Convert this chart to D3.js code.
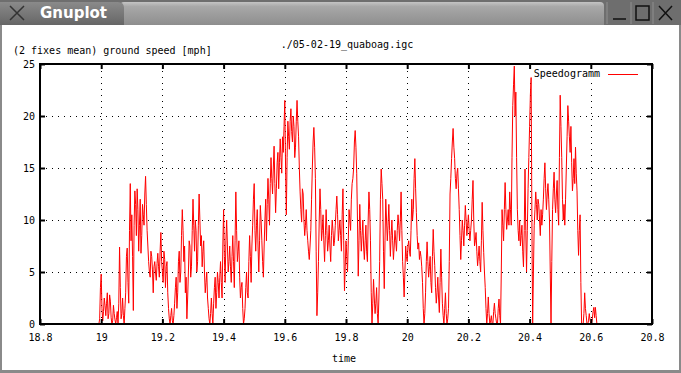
<!DOCTYPE html>
<html>
<head>
<meta charset="utf-8">
<script src="https://d3js.org/d3.v7.min.js"></script>
<style>
  body { margin: 0; background: #fff; }
  svg { display: block; }
  .mono { font-family: "DejaVu Sans Mono", monospace; font-size: 10px; fill: #000; }
</style>
</head>
<body>
<div id="chart"></div>
<script>
// time of each fix (hours)
const time = [
  18.9900, 18.9925, 18.9950, 18.9975, 19.0000, 19.0025, 19.0050, 19.0075, 19.0100, 19.0125, 19.0150, 19.0175, 19.0200, 19.0225, 19.0250, 19.0275, 19.0300, 19.0325, 19.0350, 19.0375,
  19.0400, 19.0425, 19.0450, 19.0475, 19.0500, 19.0525, 19.0550, 19.0575, 19.0600, 19.0625, 19.0650, 19.0675, 19.0700, 19.0725, 19.0750, 19.0775, 19.0800, 19.0825, 19.0850, 19.0875,
  19.0900, 19.0925, 19.0950, 19.0975, 19.1000, 19.1025, 19.1050, 19.1075, 19.1100, 19.1125, 19.1150, 19.1175, 19.1200, 19.1225, 19.1250, 19.1275, 19.1300, 19.1325, 19.1350, 19.1375,
  19.1400, 19.1425, 19.1450, 19.1475, 19.1500, 19.1525, 19.1550, 19.1575, 19.1600, 19.1625, 19.1650, 19.1675, 19.1700, 19.1725, 19.1750, 19.1775, 19.1800, 19.1825, 19.1850, 19.1875,
  19.1900, 19.1925, 19.1950, 19.1975, 19.2000, 19.2025, 19.2050, 19.2075, 19.2100, 19.2125, 19.2150, 19.2175, 19.2200, 19.2225, 19.2250, 19.2275, 19.2300, 19.2325, 19.2350, 19.2375,
  19.2400, 19.2425, 19.2450, 19.2475, 19.2500, 19.2525, 19.2550, 19.2575, 19.2600, 19.2625, 19.2650, 19.2675, 19.2700, 19.2725, 19.2750, 19.2775, 19.2800, 19.2825, 19.2850, 19.2875,
  19.2900, 19.2925, 19.2950, 19.2975, 19.3000, 19.3025, 19.3050, 19.3075, 19.3100, 19.3125, 19.3150, 19.3175, 19.3200, 19.3225, 19.3250, 19.3275, 19.3300, 19.3325, 19.3350, 19.3375,
  19.3400, 19.3425, 19.3450, 19.3475, 19.3500, 19.3525, 19.3550, 19.3575, 19.3600, 19.3625, 19.3650, 19.3675, 19.3700, 19.3725, 19.3750, 19.3775, 19.3800, 19.3825, 19.3850, 19.3875,
  19.3900, 19.3925, 19.3950, 19.3975, 19.4000, 19.4025, 19.4050, 19.4075, 19.4100, 19.4125, 19.4150, 19.4175, 19.4200, 19.4225, 19.4250, 19.4275, 19.4300, 19.4325, 19.4350, 19.4375,
  19.4400, 19.4425, 19.4450, 19.4475, 19.4500, 19.4525, 19.4550, 19.4575, 19.4600, 19.4625, 19.4650, 19.4675, 19.4700, 19.4725, 19.4750, 19.4775, 19.4800, 19.4825, 19.4850, 19.4875,
  19.4900, 19.4925, 19.4950, 19.4975, 19.5000, 19.5025, 19.5050, 19.5075, 19.5100, 19.5125, 19.5150, 19.5175, 19.5200, 19.5225, 19.5250, 19.5275, 19.5300, 19.5325, 19.5350, 19.5375,
  19.5400, 19.5425, 19.5450, 19.5475, 19.5500, 19.5525, 19.5550, 19.5575, 19.5600, 19.5625, 19.5650, 19.5675, 19.5700, 19.5725, 19.5750, 19.5775, 19.5800, 19.5825, 19.5850, 19.5875,
  19.5900, 19.5925, 19.5950, 19.5975, 19.6000, 19.6025, 19.6050, 19.6075, 19.6100, 19.6125, 19.6150, 19.6175, 19.6200, 19.6225, 19.6250, 19.6275, 19.6300, 19.6325, 19.6350, 19.6375,
  19.6400, 19.6425, 19.6450, 19.6475, 19.6500, 19.6525, 19.6550, 19.6575, 19.6600, 19.6625, 19.6650, 19.6675, 19.6700, 19.6725, 19.6750, 19.6775, 19.6800, 19.6825, 19.6850, 19.6875,
  19.6900, 19.6925, 19.6950, 19.6975, 19.7000, 19.7025, 19.7050, 19.7075, 19.7100, 19.7125, 19.7150, 19.7175, 19.7200, 19.7225, 19.7250, 19.7275, 19.7300, 19.7325, 19.7350, 19.7375,
  19.7400, 19.7425, 19.7450, 19.7475, 19.7500, 19.7525, 19.7550, 19.7575, 19.7600, 19.7625, 19.7650, 19.7675, 19.7700, 19.7725, 19.7750, 19.7775, 19.7800, 19.7825, 19.7850, 19.7875,
  19.7900, 19.7925, 19.7950, 19.7975, 19.8000, 19.8025, 19.8050, 19.8075, 19.8100, 19.8125, 19.8150, 19.8175, 19.8200, 19.8225, 19.8250, 19.8275, 19.8300, 19.8325, 19.8350, 19.8375,
  19.8400, 19.8425, 19.8450, 19.8475, 19.8500, 19.8525, 19.8550, 19.8575, 19.8600, 19.8625, 19.8650, 19.8675, 19.8700, 19.8725, 19.8750, 19.8775, 19.8800, 19.8825, 19.8850, 19.8875,
  19.8900, 19.8925, 19.8950, 19.8975, 19.9000, 19.9025, 19.9050, 19.9075, 19.9100, 19.9125, 19.9150, 19.9175, 19.9200, 19.9225, 19.9250, 19.9275, 19.9300, 19.9325, 19.9350, 19.9375,
  19.9400, 19.9425, 19.9450, 19.9475, 19.9500, 19.9525, 19.9550, 19.9575, 19.9600, 19.9625, 19.9650, 19.9675, 19.9700, 19.9725, 19.9750, 19.9775, 19.9800, 19.9825, 19.9850, 19.9875,
  19.9900, 19.9925, 19.9950, 19.9975, 20.0000, 20.0025, 20.0050, 20.0075, 20.0100, 20.0125, 20.0150, 20.0175, 20.0200, 20.0225, 20.0250, 20.0275, 20.0300, 20.0325, 20.0350, 20.0375,
  20.0400, 20.0425, 20.0450, 20.0475, 20.0500, 20.0525, 20.0550, 20.0575, 20.0600, 20.0625, 20.0650, 20.0675, 20.0700, 20.0725, 20.0750, 20.0775, 20.0800, 20.0825, 20.0850, 20.0875,
  20.0900, 20.0925, 20.0950, 20.0975, 20.1000, 20.1025, 20.1050, 20.1075, 20.1100, 20.1125, 20.1150, 20.1175, 20.1200, 20.1225, 20.1250, 20.1275, 20.1300, 20.1325, 20.1350, 20.1375,
  20.1400, 20.1425, 20.1450, 20.1475, 20.1500, 20.1525, 20.1550, 20.1575, 20.1600, 20.1625, 20.1650, 20.1675, 20.1700, 20.1725, 20.1750, 20.1775, 20.1800, 20.1825, 20.1850, 20.1875,
  20.1900, 20.1925, 20.1950, 20.1975, 20.2000, 20.2025, 20.2050, 20.2075, 20.2100, 20.2125, 20.2150, 20.2175, 20.2200, 20.2225, 20.2250, 20.2275, 20.2300, 20.2325, 20.2350, 20.2375,
  20.2400, 20.2425, 20.2450, 20.2475, 20.2500, 20.2525, 20.2550, 20.2575, 20.2600, 20.2625, 20.2650, 20.2675, 20.2700, 20.2725, 20.2750, 20.2775, 20.2800, 20.2825, 20.2850, 20.2875,
  20.2900, 20.2925, 20.2950, 20.2975, 20.3000, 20.3025, 20.3050, 20.3075, 20.3100, 20.3125, 20.3150, 20.3175, 20.3200, 20.3225, 20.3250, 20.3275, 20.3300, 20.3325, 20.3350, 20.3375,
  20.3400, 20.3425, 20.3450, 20.3475, 20.3500, 20.3525, 20.3550, 20.3575, 20.3600, 20.3625, 20.3650, 20.3675, 20.3700, 20.3725, 20.3750, 20.3775, 20.3800, 20.3825, 20.3850, 20.3875,
  20.3900, 20.3925, 20.3950, 20.3975, 20.4000, 20.4025, 20.4050, 20.4075, 20.4100, 20.4125, 20.4150, 20.4175, 20.4200, 20.4225, 20.4250, 20.4275, 20.4300, 20.4325, 20.4350, 20.4375,
  20.4400, 20.4425, 20.4450, 20.4475, 20.4500, 20.4525, 20.4550, 20.4575, 20.4600, 20.4625, 20.4650, 20.4675, 20.4700, 20.4725, 20.4750, 20.4775, 20.4800, 20.4825, 20.4850, 20.4875,
  20.4900, 20.4925, 20.4950, 20.4975, 20.5000, 20.5025, 20.5050, 20.5075, 20.5100, 20.5125, 20.5150, 20.5175, 20.5200, 20.5225, 20.5250, 20.5275, 20.5300, 20.5325, 20.5350, 20.5375,
  20.5400, 20.5425, 20.5450, 20.5475, 20.5500, 20.5525, 20.5550, 20.5575, 20.5600, 20.5625, 20.5650, 20.5675, 20.5700, 20.5725, 20.5750, 20.5775, 20.5800, 20.5825, 20.5850, 20.5875,
  20.5900, 20.5925, 20.5950, 20.5975, 20.6000, 20.6025, 20.6050, 20.6075, 20.6100, 20.6125, 20.6150, 20.6175, 20.6200
];

// ground speed, 2 fixes mean (mph)
const speed = [
  0, 0, 0.5, 3.5, 4.8, 1.5, 0.3, 1.2, 2.5, 1.8, 0.8, 2.0, 3.0, 0.5, 1.0, 2.8, 2.2, 0.6, 0, 0.3,
  1.8, 1.0, 0.4, 0, 0.6, 1.2, 0, 2.0, 7.4, 3.5, 0.5, 1.0, 2.5, 0.8, 0, 1.5, 3.0, 6.5, 7.3, 4.0,
  2.0, 9.0, 13.5, 8.0, 10.5, 6.5, 1.3, 9.5, 12.8, 11.5, 8.5, 13.0, 11.0, 7.0, 9.5, 12.0, 6.8, 8.5, 11.5, 10.5,
  9.5, 12.5, 14.2, 11.5, 9.0, 7.5, 6.0, 5.0, 4.5, 7.0, 6.5, 5.2, 3.0, 5.5, 6.0, 5.0, 4.2, 5.8, 6.8, 5.5,
  4.5, 7.0, 8.8, 6.0, 5.0, 4.0, 7.0, 6.2, 3.5, 5.5, 6.0, 3.0, 1.5, 0.5, 0, 0.8, 1.5, 0.3, 0, 0.8,
  2.0, 3.5, 4.5, 1.5, 3.0, 6.0, 7.0, 4.0, 5.0, 8.5, 11.0, 9.0, 6.0, 7.5, 3.0, 4.5, 0.5, 2.5, 5.0, 8.0,
  7.5, 4.5, 5.5, 9.0, 12.0, 9.5, 7.0, 10.0, 9.0, 5.0, 6.0, 9.5, 12.5, 10.0, 7.5, 8.5, 5.5, 7.0, 8.0, 5.0,
  3.0, 4.0, 5.0, 2.5, 1.5, 0.5, 0, 1.0, 2.5, 1.0, 0, 2.0, 3.5, 4.5, 1.5, 3.0, 5.0, 4.0, 2.5, 4.5,
  6.0, 4.0, 2.5, 7.5, 11.0, 6.5, 4.0, 8.0, 10.0, 7.5, 5.0, 6.0, 7.5, 5.5, 4.0, 6.5, 8.5, 6.0, 3.5, 8.0,
  12.7, 9.0, 6.0, 7.0, 8.0, 4.5, 2.5, 3.5, 4.0, 1.5, 0, 0.5, 1.5, 3.5, 5.0, 3.0, 2.5, 6.0, 8.5, 6.5,
  4.0, 7.5, 9.5, 12.0, 13.5, 9.0, 7.0, 9.5, 11.0, 7.5, 5.0, 8.0, 11.4, 10.0, 8.0, 6.0, 4.5, 7.5, 10.0, 12.0,
  8.0, 11.5, 14.0, 12.0, 9.5, 13.5, 16.0, 14.0, 12.5, 15.0, 17.1, 13.5, 10.7, 13.0, 15.5, 16.5, 13.0, 15.5, 17.8, 16.0,
  14.5, 18.0, 16.5, 19.0, 21.5, 15.0, 10.5, 16.0, 19.5, 18.0, 16.8, 19.5, 20.7, 18.5, 17.5, 20.0, 19.0, 16.0, 17.0, 19.5,
  21.5, 19.5, 18.0, 15.0, 12.7, 11.0, 9.8, 13.0, 12.5, 10.0, 8.5, 9.5, 11.0, 9.0, 8.0, 7.0, 6.2, 7.5, 9.0, 12.0,
  15.0, 17.5, 18.9, 17.0, 14.0, 7.0, 0.8, 3.0, 6.0, 10.0, 13.0, 11.0, 8.0, 9.0, 10.5, 8.0, 6.0, 8.5, 11.0, 9.0,
  7.0, 8.0, 9.5, 7.5, 6.0, 8.5, 10.0, 9.0, 7.5, 8.0, 9.5, 11.0, 12.3, 10.5, 8.0, 9.0, 10.0, 8.5, 7.0, 10.5,
  13.0, 8.0, 3.2, 5.5, 8.0, 6.5, 5.0, 8.0, 11.0, 10.0, 9.0, 12.0, 13.5, 14.0, 15.0, 17.5, 18.6, 17.0, 14.5, 10.0,
  4.6, 8.0, 11.5, 9.0, 7.0, 8.5, 10.0, 7.5, 6.2, 8.0, 9.5, 7.0, 6.0, 10.0, 12.7, 11.0, 8.0, 3.0, 0, 2.0,
  4.3, 2.5, 1.0, 2.0, 3.5, 1.0, 0, 2.5, 6.0, 12.0, 14.9, 13.5, 12.0, 7.0, 3.4, 8.0, 12.0, 10.0, 8.0, 9.5,
  11.5, 9.0, 6.5, 8.5, 10.0, 8.0, 6.2, 7.5, 9.0, 8.0, 7.0, 9.0, 10.5, 9.5, 8.0, 10.0, 12.7, 9.0, 6.0, 4.5,
  2.6, 5.0, 7.5, 6.5, 6.0, 7.5, 8.0, 7.0, 6.5, 9.0, 12.0, 10.0, 11.0, 14.0, 15.9, 13.0, 10.7, 8.5, 7.2, 7.8,
  6.2, 7.0, 6.5, 5.5, 4.0, 1.5, 0, 1.0, 3.0, 6.0, 7.9, 6.0, 4.5, 5.5, 6.5, 4.0, 3.0, 6.5, 9.1, 7.0,
  5.6, 3.5, 2.0, 3.0, 4.5, 2.5, 1.1, 4.0, 7.2, 4.5, 2.0, 0.8, 0, 1.5, 3.0, 1.0, 0, 0.5, 1.5, 6.0,
  12.5, 14.0, 15.9, 17.5, 18.8, 17.0, 15.9, 14.0, 13.0, 14.5, 15.0, 13.0, 11.0, 8.5, 6.2, 8.0, 10.0, 9.0, 7.5, 9.5,
  11.4, 10.0, 8.5, 9.5, 10.5, 9.0, 8.0, 9.0, 10.0, 12.0, 13.8, 10.0, 7.5, 8.0, 8.8, 7.0, 5.6, 6.5, 7.5, 6.0,
  5.0, 8.0, 11.7, 9.0, 6.9, 5.0, 3.5, 1.5, 0, 1.0, 2.6, 1.0, 0, 0.3, 0.8, 0, 0, 1.2, 2.0, 1.0,
  0.5, 0, 0, 1.5, 2.4, 0.8, 0, 5.0, 11.0, 9.5, 8.0, 11.0, 13.6, 11.0, 9.1, 10.0, 11.0, 9.5, 12.7, 11.0,
  9.5, 16.0, 21.0, 23.0, 24.8, 20.0, 22.3, 16.0, 11.0, 9.0, 8.0, 10.0, 7.5, 8.5, 9.5, 7.0, 5.5, 9.0, 14.9, 9.0,
  5.0, 9.0, 13.0, 16.0, 19.0, 22.0, 23.7, 10.0, 0, 5.0, 9.5, 11.0, 12.7, 11.5, 10.0, 12.0, 11.5, 10.0, 8.5, 11.0,
  9.5, 10.5, 12.0, 14.0, 15.5, 13.0, 11.0, 12.5, 13.5, 12.0, 10.0, 5.0, 0, 6.0, 11.0, 13.0, 14.6, 12.0, 10.7, 12.5,
  13.8, 11.0, 9.5, 16.0, 22.0, 19.0, 16.0, 12.0, 10.0, 11.5, 9.5, 12.0, 15.0, 18.0, 21.0, 19.5, 18.0, 16.5, 19.0, 15.5,
  12.8, 14.0, 15.9, 13.5, 17.0, 14.5, 12.8, 9.0, 6.6, 9.0, 10.5, 4.0, 0, 0, 0, 1.0, 3.0, 1.5, 0.8, 0,
  0, 0.3, 1.0, 0.4, 0, 0, 0.5, 1.2, 1.6, 0.6, 1.6, 0.8, 0
];

const xTicks = [18.8, 19, 19.2, 19.4, 19.6, 19.8, 20, 20.2, 20.4, 20.6, 20.8];
const yTicks = [0, 5, 10, 15, 20, 25];

const width = 681, height = 373;
const plotLeft = 40, plotRight = 652, plotTop = 64, plotBottom = 324;

const svg = d3.select("#chart").append("svg")
  .attr("width", width)
  .attr("height", height);

// --- window frame (X11 title bar) ---
const defs = svg.append("defs");
const barGrad = defs.append("linearGradient").attr("id", "bar").attr("x1", 0).attr("y1", 0).attr("x2", 0).attr("y2", 1);
barGrad.append("stop").attr("offset", "0%").attr("stop-color", "#c4c4c4");
barGrad.append("stop").attr("offset", "20%").attr("stop-color", "#a8a8a8");
barGrad.append("stop").attr("offset", "100%").attr("stop-color", "#8e8e8e");
const tabGrad = defs.append("linearGradient").attr("id", "tab").attr("x1", 0).attr("y1", 0).attr("x2", 0).attr("y2", 1);
tabGrad.append("stop").attr("offset", "0%").attr("stop-color", "#8a8a8a");
tabGrad.append("stop").attr("offset", "100%").attr("stop-color", "#666");

svg.append("rect").attr("x", 0).attr("y", 0).attr("width", width).attr("height", height).attr("fill", "#8a8a8a");
svg.append("rect").attr("x", 0).attr("y", 0).attr("width", width).attr("height", 25).attr("fill", "#6e6e6e");
svg.append("path")
  .attr("d", "M120,25 L120,6 Q120,2 124,2 L600,2 Q604,2 604,6 L604,25 Z")
  .attr("fill", "url(#bar)");
svg.append("path")
  .attr("d", "M0,25 L0,2 L118,2 Q124,2 124,8 L124,25 Z")
  .attr("fill", "url(#tab)");
svg.append("text").attr("x", 40).attr("y", 18)
  .attr("font-family", "DejaVu Sans, sans-serif").attr("font-weight", "bold")
  .attr("font-size", 15).attr("fill", "#fff").text("Gnuplot");
// small X icon
svg.append("path").attr("d", "M10,6 L24,20 M24,6 L10,20")
  .attr("stroke", "#333").attr("stroke-width", 1.5);
// buttons
const btn = svg.append("g").attr("stroke", "#111").attr("stroke-width", 1.5).attr("fill", "none");
btn.append("path").attr("d", "M613,19 L626,19");
btn.append("rect").attr("x", 636).attr("y", 6).attr("width", 13).attr("height", 14);
btn.append("path").attr("d", "M659,6 L672,20 M672,6 L659,20");
svg.append("path").attr("d", "M607,2 L607,24 M631,2 L631,24 M653,2 L653,24")
  .attr("stroke", "#8f8f8f").attr("stroke-width", 1);

// window body
svg.append("rect").attr("x", 2).attr("y", 25).attr("width", width - 4).attr("height", height - 28).attr("fill", "#fff");

// --- plot ---
const x = d3.scaleLinear().domain([18.8, 20.8]).range([plotLeft, plotRight]);
const y = d3.scaleLinear().domain([0, 25]).range([plotBottom, plotTop]);

// dotted grid
const grid = svg.append("g").attr("stroke", "#000").attr("stroke-width", 1).attr("stroke-dasharray", "1,5");
grid.selectAll("line.gx")
  .data(xTicks.filter(d => d > 18.8 && d < 20.8))
  .join("line")
  .attr("class", "gx")
  .attr("x1", d => Math.round(x(d)) + 0.5).attr("x2", d => Math.round(x(d)) + 0.5)
  .attr("y1", plotBottom).attr("y2", plotTop);
grid.selectAll("line.gy")
  .data(yTicks.filter(d => d > 0 && d < 25))
  .join("line")
  .attr("class", "gy")
  .attr("y1", d => Math.round(y(d)) + 0.5).attr("y2", d => Math.round(y(d)) + 0.5)
  .attr("x1", plotLeft).attr("x2", plotRight);

// key area is cleared over the grid
svg.append("rect").attr("x", 526).attr("y", plotTop + 1).attr("width", 120).attr("height", 16).attr("fill", "#fff");

// the speed curve
const line = d3.line()
  .x((d, i) => x(time[i]))
  .y(d => y(d));
svg.append("path")
  .datum(speed)
  .attr("d", line)
  .attr("fill", "none")
  .attr("stroke", "#ff0000")
  .attr("stroke-width", 1);

// axes (inward ticks, mirrored on top/right)
const fmt = d => String(d);
const xAx = svg.append("g").attr("transform", `translate(0,${plotBottom})`)
  .call(d3.axisBottom(x).tickValues(xTicks).tickSize(-5).tickPadding(10).tickFormat(fmt));
const xTop = svg.append("g").attr("transform", `translate(0,${plotTop})`)
  .call(d3.axisTop(x).tickValues(xTicks).tickSize(-5).tickFormat(""));
const yAx = svg.append("g").attr("transform", `translate(${plotLeft},0)`)
  .call(d3.axisLeft(y).tickValues(yTicks).tickSize(-5).tickPadding(5).tickFormat(fmt));
const yRight = svg.append("g").attr("transform", `translate(${plotRight},0)`)
  .call(d3.axisRight(y).tickValues(yTicks).tickSize(-5).tickFormat(""));
[xAx, xTop, yAx, yRight].forEach(g => {
  g.select(".domain").remove();
  g.selectAll(".tick line").attr("stroke", "#000").attr("stroke-width", 2);
  g.selectAll("text").attr("class", "mono");
  g.attr("font-family", null).attr("font-size", null);
});

// border
svg.append("rect")
  .attr("x", plotLeft).attr("y", plotTop)
  .attr("width", plotRight - plotLeft).attr("height", plotBottom - plotTop)
  .attr("fill", "none").attr("stroke", "#000").attr("stroke-width", 2);

// texts
svg.append("text").attr("class", "mono").attr("x", 347).attr("y", 48)
  .attr("text-anchor", "middle").text("./05-02-19_quaboag.igc");
svg.append("text").attr("class", "mono").attr("x", 13).attr("y", 54)
  .text("(2 fixes mean) ground speed [mph]");
svg.append("text").attr("class", "mono").attr("x", 344).attr("y", 362)
  .attr("text-anchor", "middle").text("time");

// legend
svg.append("text").attr("class", "mono").attr("x", 600).attr("y", 77)
  .attr("text-anchor", "end").text("Speedogramm");
svg.append("line").attr("x1", 608).attr("x2", 638).attr("y1", 74.5).attr("y2", 74.5)
  .attr("stroke", "#ff0000").attr("stroke-width", 1);
</script>
</body>
</html>
